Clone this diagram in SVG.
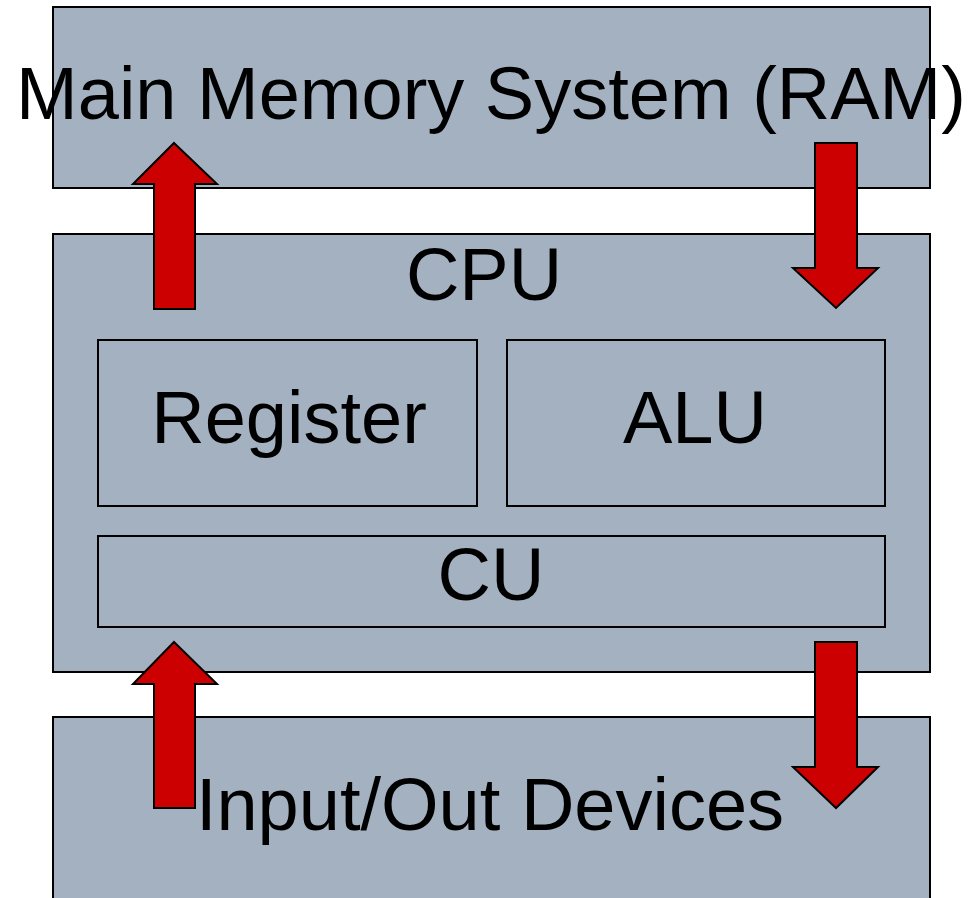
<svg xmlns="http://www.w3.org/2000/svg" width="972" height="898" viewBox="0 0 972 898">
  <style>
    .box { fill: #a3b1c0; stroke: #000; stroke-width: 2; }
    .arrow { fill: #cc0000; stroke: #000; stroke-width: 2; stroke-linejoin: miter; }
    .label { font-family: "Liberation Sans", Arial, sans-serif; font-size: 74px; fill: #000; text-anchor: middle; }
  </style>
  <rect width="972" height="898" fill="#fff"/>

  <g id="memory">
    <rect class="box" x="53" y="7" width="877" height="181"/>
    <text class="label" x="491" y="119">Main Memory System (RAM)</text>
  </g>

  <g id="cpu">
    <rect class="box" x="53" y="234" width="877" height="438"/>
    <text class="label" x="484" y="300">CPU</text>
  </g>

  <g id="register">
    <rect class="box" x="98" y="340" width="379" height="166"/>
    <text class="label" x="289" y="443">Register</text>
  </g>

  <g id="alu">
    <rect class="box" x="507" y="340" width="378" height="166"/>
    <text class="label" x="695" y="443">ALU</text>
  </g>

  <g id="cu">
    <rect class="box" x="98" y="536" width="787" height="91"/>
    <text class="label" x="491" y="600">CU</text>
  </g>

  <g id="io">
    <rect class="box" x="53" y="717" width="877" height="200"/>
  </g>

  <g id="connectors">
    <!-- CPU to memory -->
    <polygon class="arrow" points="174,143 217,184 195,184 195,309 154,309 154,184 133,184"/>
    <!-- memory to CPU -->
    <polygon class="arrow" points="815,143 857,143 857,268 878,268 836,308 793,268 815,268"/>
    <!-- devices to CPU -->
    <polygon class="arrow" points="174,642 217,684 195,684 195,808 154,808 154,684 133,684"/>
    <!-- CPU to devices -->
    <polygon class="arrow" points="815,642 857,642 857,767 878,767 836,808 793,767 815,767"/>
  </g>

  <text class="label" x="490" y="830">Input/Out Devices</text>
</svg>
